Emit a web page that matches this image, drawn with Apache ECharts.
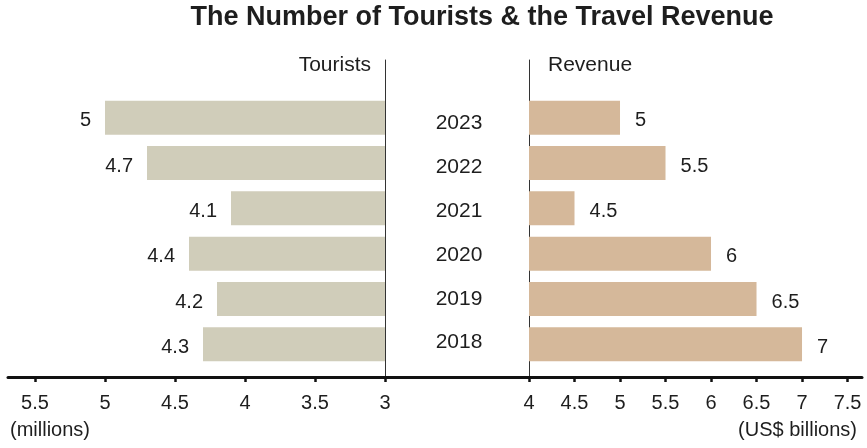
<!DOCTYPE html>
<html>
<head>
<meta charset="utf-8">
<script src="https://cdn.jsdelivr.net/npm/echarts@6/dist/echarts.min.js"></script>
<style>
  html, body { margin: 0; padding: 0; background: #fff; }
  #chart { width: 867px; height: 448px; }
</style>
</head>
<body>
<div id="chart"></div>
<script>
// Years, listed top to bottom
const years = ['2023', '2022', '2021', '2020', '2019', '2018'];
// Tourists (millions)
const tourists = [5, 4.7, 4.1, 4.4, 4.2, 4.3];
// Travel revenue (US$ billions)
const revenue = [5, 5.5, 4.5, 6, 6.5, 7];
// Tick labels on the two value axes
const touristTicks = [3, 3.5, 4, 4.5, 5, 5.5];
const revenueTicks = [4, 4.5, 5, 5.5, 6, 6.5, 7, 7.5];

const FONT = '"Liberation Sans", Arial, Helvetica, sans-serif';
const INK = '#1e1e1e';

const chart = echarts.init(document.getElementById('chart'), null, { renderer: 'canvas' });

const tickLabel = { fontFamily: FONT, fontSize: 20, color: INK, margin: 16 };
const baseLine = { show: true, lineStyle: { color: '#111', width: 3 } };
const tickStyle = { show: true, length: 5, lineStyle: { color: '#111', width: 2.5 } };
const hiddenAxis = { show: false };

chart.setOption({
  animation: false,
  backgroundColor: '#ffffff',
  grid: [
    { left: 8, top: 95, width: 377, height: 272 },   // tourists bars
    { left: 529, top: 95, width: 333, height: 272 },  // revenue bars
    { left: 385, top: 60, width: 144, height: 317 },  // centre strip with divider lines
    { left: 385, top: 100, width: 144, height: 263 }  // year labels column
  ],
  xAxis: [
    {
      gridIndex: 0, type: 'value', inverse: true, min: 3, max: 5.693, offset: 10,
      axisLine: baseLine,
      axisTick: Object.assign({ customValues: touristTicks }, tickStyle),
      axisLabel: Object.assign({ customValues: touristTicks }, tickLabel),
      splitLine: { show: false }
    },
    {
      gridIndex: 1, type: 'value', min: 4, max: 7.659, offset: 10,
      axisLine: baseLine,
      axisTick: Object.assign({ customValues: revenueTicks }, tickStyle),
      axisLabel: Object.assign({ customValues: revenueTicks }, tickLabel),
      splitLine: { show: false }
    },
    {
      gridIndex: 2, type: 'value', min: 0, max: 1,
      axisLine: baseLine,
      axisTick: { show: false }, axisLabel: { show: false }, splitLine: { show: false }
    },
    Object.assign({ gridIndex: 3, type: 'value', min: 0, max: 1 }, hiddenAxis)
  ],
  yAxis: [
    {
      gridIndex: 0, type: 'category', data: years, inverse: true,
      axisLine: { show: false }, axisTick: { show: false }, axisLabel: { show: false }
    },
    {
      gridIndex: 1, type: 'category', data: years, inverse: true,
      axisLine: { show: false }, axisTick: { show: false }, axisLabel: { show: false }
    },
    {
      gridIndex: 2, type: 'value', position: 'left', min: 0, max: 1,
      axisLine: { show: true, onZero: false, lineStyle: { color: '#333', width: 1 } },
      axisTick: { show: false }, axisLabel: { show: false }, splitLine: { show: false }
    },
    {
      gridIndex: 2, type: 'value', position: 'right', min: 0, max: 1,
      axisLine: { show: true, onZero: false, lineStyle: { color: '#333', width: 1 } },
      axisTick: { show: false }, axisLabel: { show: false }, splitLine: { show: false }
    },
    {
      gridIndex: 3, type: 'category', data: years, inverse: true, position: 'left',
      axisLine: { show: false }, axisTick: { show: false },
      axisLabel: {
        align: 'center', margin: -74,
        formatter: '{yr|{value}}',
        rich: { yr: { fontFamily: FONT, fontSize: 21, color: INK, padding: [3, 0, 0, 0] } }
      }
    }
  ],
  series: [
    {
      name: 'Tourists', type: 'bar', xAxisIndex: 0, yAxisIndex: 0,
      data: tourists, barWidth: 34,
      itemStyle: { color: '#D0CDBA' },
      label: { show: true, position: 'left', distance: 14, offset: [0, 3],
               fontFamily: FONT, fontSize: 20, color: INK }
    },
    {
      name: 'Revenue', type: 'bar', xAxisIndex: 1, yAxisIndex: 1,
      data: revenue, barWidth: 34,
      itemStyle: { color: '#D5B89A' },
      label: { show: true, position: 'right', distance: 15, offset: [0, 3],
               fontFamily: FONT, fontSize: 20, color: INK }
    }
  ],
  graphic: [
    {
      type: 'text', x: 482, y: 18,
      style: { text: 'The Number of Tourists & the Travel Revenue', align: 'center', verticalAlign: 'middle',
               font: 'bold 27px ' + FONT, fill: INK }
    },
    {
      type: 'text', x: 371, y: 65,
      style: { text: 'Tourists', align: 'right', verticalAlign: 'middle', font: '21px ' + FONT, fill: INK }
    },
    {
      type: 'text', x: 548, y: 65,
      style: { text: 'Revenue', align: 'left', verticalAlign: 'middle', font: '21px ' + FONT, fill: INK }
    },
    {
      type: 'text', x: 10, y: 430,
      style: { text: '(millions)', align: 'left', verticalAlign: 'middle', font: '20px ' + FONT, fill: INK }
    },
    {
      type: 'text', x: 857, y: 430,
      style: { text: '(US$ billions)', align: 'right', verticalAlign: 'middle', font: '20px ' + FONT, fill: INK }
    }
  ]
});
</script>
</body>
</html>
